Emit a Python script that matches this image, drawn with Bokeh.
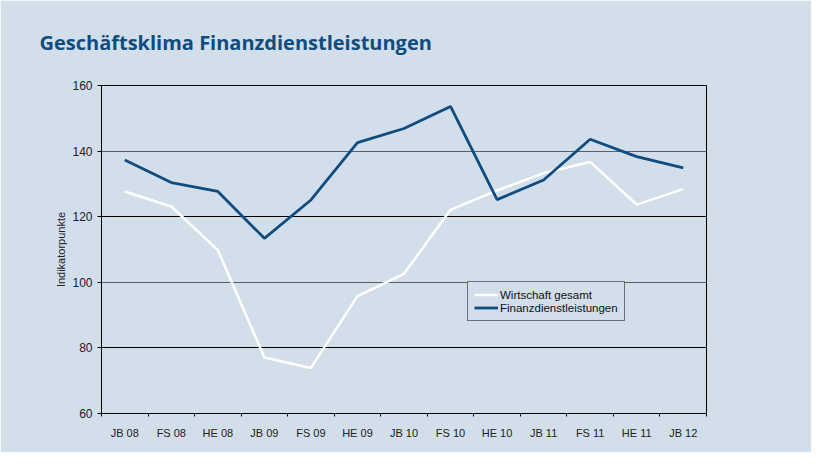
from bokeh.plotting import figure
from bokeh.models import FixedTicker, Range1d, Grid, Legend, LegendItem, ColumnDataSource
from bokeh.embed import file_html
from bokeh.resources import INLINE

title_text = "Geschäftsklima Finanzdienstleistungen"
periods = ["JB 08", "FS 08", "HE 08", "JB 09", "FS 09", "HE 09", "JB 10",
           "FS 10", "HE 10", "JB 11", "FS 11", "HE 11", "JB 12"]
wirtschaft = [127.7, 123.1, 109.8, 77.1, 73.9, 95.8, 102.6, 122.1, 128.0, 133.3, 136.7, 123.7, 128.4]
finanz = [137.3, 130.4, 127.7, 113.4, 125.1, 142.6, 146.9, 153.6, 125.2, 131.2, 143.6, 138.3, 134.9]
y_ticks = [60, 80, 100, 120, 140, 160]

BG = "#d2dee9"
BLUE = "#0f4c80"
TICKFONT = "Liberation Sans"

xpos = [i + 0.5 for i in range(len(periods))]
src = ColumnDataSource(dict(x=xpos, w=wirtschaft, f=finanz))

p = figure(width=811, height=452, output_backend="svg", toolbar_location=None,
           x_range=Range1d(0, len(periods)), y_range=Range1d(60, 160),
           min_border_left=101, min_border_right=105, min_border_top=85, min_border_bottom=39,
           background_fill_color=BG, border_fill_color=BG)

p.title.text = title_text
p.title.text_font = "Open Sans"
p.title.text_font_style = "bold"
p.title.text_font_size = "20px"
p.title.text_color = BLUE
p.title.align = "left"
p.title.vertical_align = "top"
p.title.offset = -62
p.title.standoff = 55

p.outline_line_color = "black"
p.outline_line_width = 1

# grids
p.xgrid.visible = False
p.ygrid.ticker = FixedTicker(ticks=[80, 120])
p.ygrid.grid_line_color = "black"
p.ygrid.grid_line_width = 1
g2 = Grid(dimension=1, ticker=FixedTicker(ticks=[100, 140]), grid_line_color="#5a5f66", grid_line_width=1.2)
p.add_layout(g2)

# axes
yax = p.yaxis[0]
yax.ticker = FixedTicker(ticks=y_ticks)
yax.axis_line_color = "black"
yax.major_tick_line_color = "black"
yax.major_tick_in = 0
yax.major_tick_out = 4
yax.minor_tick_line_color = None
yax.major_label_text_font = TICKFONT
yax.major_label_text_font_size = "12px"
yax.major_label_text_color = "#222222"
yax.major_label_standoff = 5
yax.axis_label = "Indikatorpunkte"
yax.axis_label_text_font = TICKFONT
yax.axis_label_text_font_size = "11px"
yax.axis_label_text_font_style = "normal"
yax.axis_label_text_color = "#222222"
yax.axis_label_standoff = 2

xax = p.xaxis[0]
xax.ticker = FixedTicker(ticks=xpos, minor_ticks=list(range(len(periods) + 1)))
xax.major_label_overrides = {x: lab for x, lab in zip(xpos, periods)}
xax.axis_line_color = "black"
xax.major_tick_line_color = None
xax.major_tick_in = 0
xax.major_tick_out = 3
xax.minor_tick_line_color = "black"
xax.minor_tick_in = 0
xax.minor_tick_out = 3
xax.major_label_text_font = TICKFONT
xax.major_label_text_font_size = "11px"
xax.major_label_text_color = "#222222"
xax.major_label_standoff = 10

r_w = p.line("x", "w", source=src, line_color="white", line_width=2.5)
r_f = p.line("x", "f", source=src, line_color=BLUE, line_width=2.8)

legend = Legend(items=[LegendItem(label="Wirtschaft gesamt", renderers=[r_w]),
                       LegendItem(label="Finanzdienstleistungen", renderers=[r_f])],
                location=(366, 92))
legend.border_line_color = "black"
legend.border_line_width = 1
legend.background_fill_color = BG
legend.background_fill_alpha = 1
legend.label_text_font = TICKFONT
legend.label_text_font_size = "11.5px"
legend.label_text_color = "#111111"
legend.glyph_width = 24
legend.glyph_height = 13
legend.label_height = 13
legend.label_standoff = 2
legend.padding = 6
legend.spacing = 0
legend.margin = 0
p.add_layout(legend, "center")

open("out.html", "w").write(file_html(p, INLINE))
